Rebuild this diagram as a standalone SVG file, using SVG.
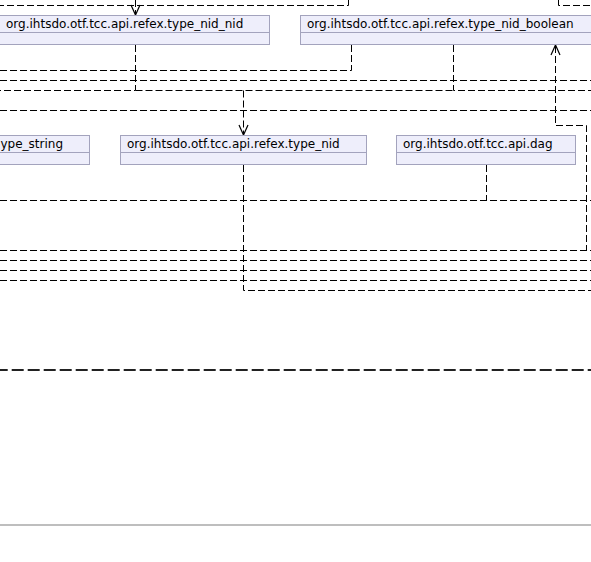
<svg xmlns="http://www.w3.org/2000/svg" width="591" height="562" viewBox="0 0 591 562">
<style>
.box{fill:#EEEEFB;stroke:#A3A3BD;stroke-width:1}
.div{stroke:#A3A3BD;stroke-width:1}
.lbl{font-family:"DejaVu Sans","Liberation Sans",sans-serif;font-size:12px;fill:#000}
.dep{fill:none;stroke:#000;stroke-width:1;stroke-dasharray:7,3}
.arr{fill:none;stroke:#000;stroke-width:1.2}
</style>
<rect x="0" y="0" width="591" height="562" fill="#fff"/>
<g id="connectors">
<path class="dep" d="M348.5,0 V5.5 H0"/>
<path class="dep" d="M558.5,0 V5.5 H591"/>
<path class="dep" d="M135.5,0 V14"/>
<path class="dep" d="M351.5,45 V70.5 H0"/>
<path class="dep" d="M0,80.5 H591"/>
<path class="dep" d="M135.5,45 V90.5 H0"/>
<path class="dep" d="M453.5,45 V90.5 H591"/>
<path class="dep" d="M135.5,90.5 H453.5"/>
<path class="dep" d="M243.5,90.5 V134"/>
<path class="dep" d="M0,110.5 H591"/>
<path class="dep" d="M555.5,46 V125.5 H586.5 V250.5"/>
<path class="dep" d="M486.5,165 V200.5"/>
<path class="dep" d="M0,200.5 H591"/>
<path class="dep" d="M0,250.5 H591"/>
<path class="dep" d="M0,260.5 H591"/>
<path class="dep" d="M0,270.5 H591"/>
<path class="dep" d="M0,280.5 H591"/>
<path class="dep" d="M243.5,165 V290.5 H591"/>
<path class="arr" d="M131,5 L135.5,15 L140,5"/>
<path class="arr" d="M239,125 L243.5,135 L248,125"/>
<path class="arr" d="M551,55 L555.5,45 L560,55"/>
<line x1="0" y1="370" x2="591" y2="370" stroke="#222" stroke-width="2" stroke-dasharray="12,4" stroke-dashoffset="4.3"/>
<line x1="0" y1="525" x2="591" y2="525" stroke="#A8A8A8" stroke-width="1.3"/>
</g>
<g id="node-type_nid_nid">
<rect class="box" x="-1.5" y="15.5" width="271" height="29"/>
<line class="div" x1="-1" y1="32.5" x2="269.5" y2="32.5"/>
<text class="lbl" x="6" y="28">org.ihtsdo.otf.tcc.api.refex.type_nid_nid</text>
</g>
<g id="node-type_nid_boolean">
<rect class="box" x="300.5" y="15.5" width="300" height="29"/>
<line class="div" x1="300.5" y1="32.5" x2="591" y2="32.5"/>
<text class="lbl" x="307" y="28">org.ihtsdo.otf.tcc.api.refex.type_nid_boolean</text>
</g>
<g id="node-type_string">
<rect class="box" x="-1.5" y="135.5" width="91" height="29"/>
<line class="div" x1="-1" y1="152.5" x2="89.5" y2="152.5"/>
<text class="lbl" x="0.5" y="148">ype_string</text>
</g>
<g id="node-type_nid">
<rect class="box" x="120.5" y="135.5" width="246" height="29"/>
<line class="div" x1="120.5" y1="152.5" x2="366.5" y2="152.5"/>
<text class="lbl" x="127" y="148">org.ihtsdo.otf.tcc.api.refex.type_nid</text>
</g>
<g id="node-dag">
<rect class="box" x="396.5" y="135.5" width="179" height="29"/>
<line class="div" x1="396.5" y1="152.5" x2="575.5" y2="152.5"/>
<text class="lbl" x="403" y="148">org.ihtsdo.otf.tcc.api.dag</text>
</g>
</svg>
